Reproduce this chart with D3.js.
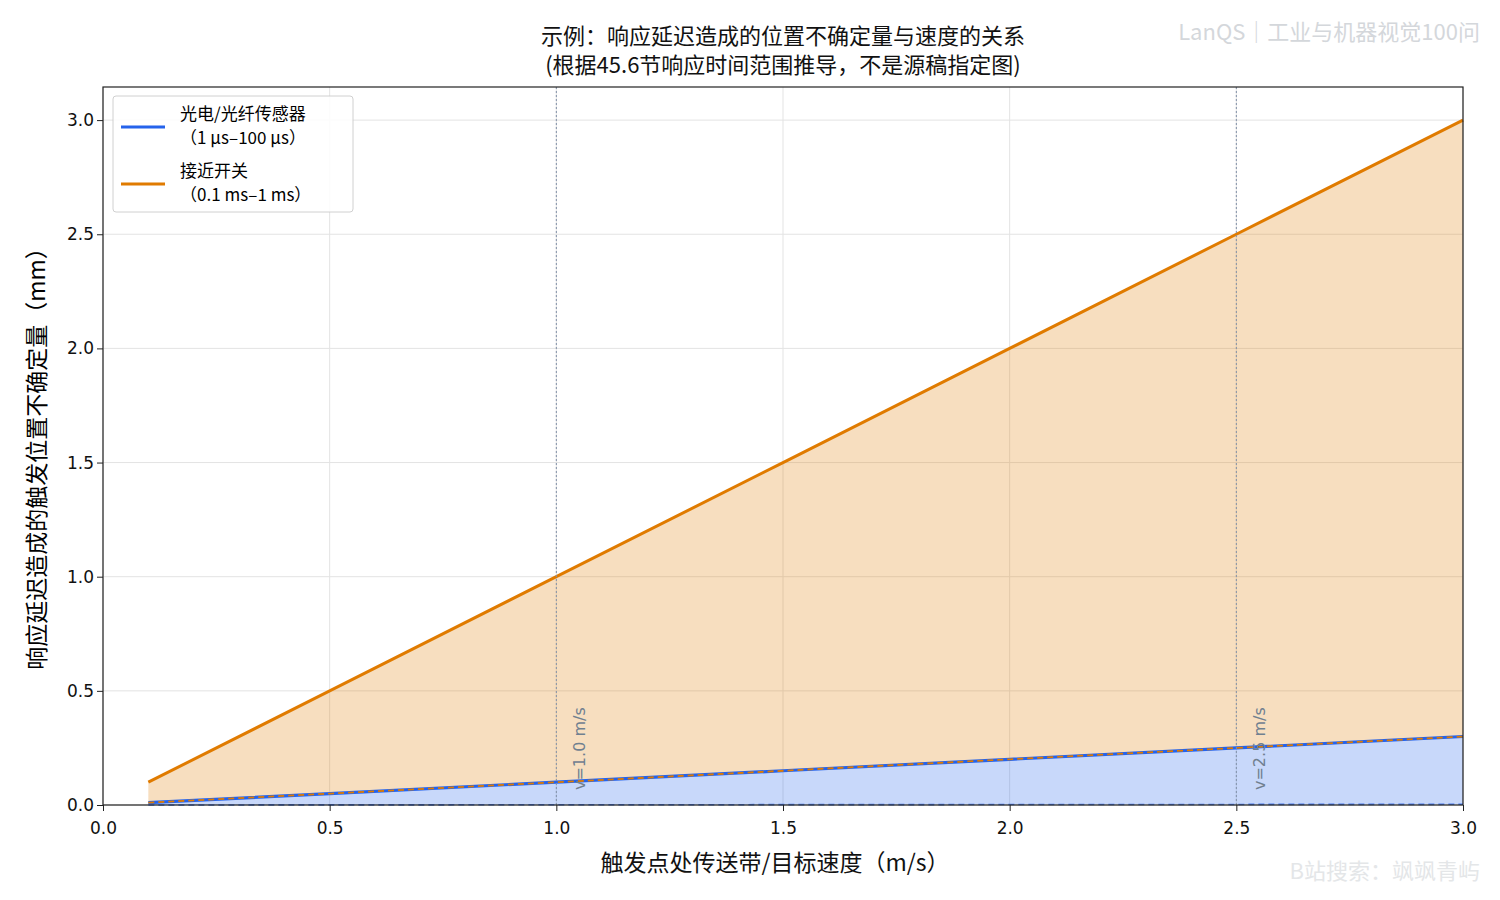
<!DOCTYPE html><html><head><meta charset="utf-8"><script src="https://cdn.jsdelivr.net/npm/d3@7"></script>
<style>body{margin:0;background:#fff}</style></head><body>
<svg id="c" width="1500" height="900"></svg>
<script>
const speeds=[0.1,0.5,1.0,1.5,2.0,2.5,3.0];
const photoMin=[0.0001,0.0005,0.001,0.0015,0.002,0.0025,0.003];
const photoMax=[0.01,0.05,0.1,0.15,0.2,0.25,0.3];
const proxMin=[0.01,0.05,0.1,0.15,0.2,0.25,0.3];
const proxMax=[0.1,0.5,1.0,1.5,2.0,2.5,3.0];
const xTicks=[0,0.5,1.0,1.5,2.0,2.5,3.0];
const yTicks=[0,0.5,1.0,1.5,2.0,2.5,3.0];
const refSpeeds=[1.0,2.5];
const CJK='"Noto Sans CJK SC",sans-serif', LAT='"DejaVu Sans",sans-serif';
const svg=d3.select("#c");
const L=103,R=1463,T=87,B=805;
const x=d3.scaleLinear().domain([0,3]).range([L,R]);
const y=d3.scaleLinear().domain([0,3.145]).range([B,T]);
const g=svg.append("g");
xTicks.forEach(t=>g.append("line").attr("x1",x(t)).attr("x2",x(t)).attr("y1",T).attr("y2",B).attr("stroke","#e3e3e3"));
yTicks.forEach(t=>g.append("line").attr("x1",L).attr("x2",R).attr("y1",y(t)).attr("y2",y(t)).attr("stroke","#e3e3e3"));
const idx=d3.range(speeds.length);
const area=(lo,hi)=>d3.area().x(i=>x(speeds[i])).y0(i=>y(lo[i])).y1(i=>y(hi[i]))(idx);
const line=a=>d3.line().x(i=>x(speeds[i])).y(i=>y(a[i]))(idx);
g.append("path").attr("d",area(proxMin,proxMax)).attr("fill","#e07b00").attr("opacity",0.25);
g.append("path").attr("d",area(photoMin,photoMax)).attr("fill","#2563eb").attr("opacity",0.25);
g.append("path").attr("d",line(photoMax)).attr("fill","none").attr("stroke","#2563eb").attr("stroke-width",3.2);
g.append("path").attr("d",line(photoMin)).attr("fill","none").attr("stroke","#2563eb").attr("stroke-width",1.6).attr("stroke-dasharray","6,4").attr("opacity",0.8);
g.append("path").attr("d",line(proxMax)).attr("fill","none").attr("stroke","#e07b00").attr("stroke-width",3);
g.append("path").attr("d",line(proxMin)).attr("fill","none").attr("stroke","#e07b00").attr("stroke-width",1.8).attr("stroke-dasharray","6,4");
refSpeeds.forEach(v=>{
 g.append("line").attr("x1",x(v)).attr("x2",x(v)).attr("y1",T).attr("y2",B).attr("stroke","#8090a8").attr("stroke-width",1).attr("stroke-dasharray","2,2");
 g.append("text").attr("transform",`translate(${x(v)+29},${B-15}) rotate(-90)`).style("font-size","16px").style("font-family",LAT).attr("fill","#708090").text(`v=${v.toFixed(1)} m/s`);
});
svg.append("rect").attr("x",L).attr("y",T).attr("width",R-L).attr("height",B-T).attr("fill","none").attr("stroke","#222").attr("stroke-width",1.2);
const xa=svg.append("g").attr("transform",`translate(0,${B})`).call(d3.axisBottom(x).tickValues(xTicks).tickFormat(d3.format(".1f")).tickSize(6));
const ya=svg.append("g").attr("transform",`translate(${L},0)`).call(d3.axisLeft(y).tickValues(yTicks).tickFormat(d3.format(".1f")).tickSize(6));
[xa,ya].forEach(a=>{a.select(".domain").remove();a.selectAll("text").style("font-size","17px").attr("fill","#111").style("font-family",LAT);a.selectAll("line").attr("stroke","#222")});
xa.selectAll("text").attr("dy","1.2em");
const t=(xx,yy,s,sz,anchor,fill,fam)=>svg.append("text").attr("x",xx).attr("y",yy).attr("text-anchor",anchor||"middle").style("font-size",sz+"px").style("font-family",fam||CJK).attr("fill",fill||"#111").text(s);
t(783,44,"示例：响应延迟造成的位置不确定量与速度的关系",22);
t(783,73,"(根据45.6节响应时间范围推导，不是源稿指定图)",22);
t(775,871,"触发点处传送带/目标速度（m/s）",23);
svg.append("text").attr("transform","translate(45,453) rotate(-90)").attr("text-anchor","middle").style("font-size","23px").style("font-family",CJK).text("响应延迟造成的触发位置不确定量（mm）");
t(1480,40,"LanQS｜工业与机器视觉100问",22,"end","#d4d7db");
t(1480,879,"B站搜索：飒飒青屿",22,"end","#e4e6e8");
const lg=svg.append("g");
lg.append("rect").attr("x",113).attr("y",96).attr("width",240).attr("height",116).attr("rx",3).attr("fill","#fff").attr("opacity",0.9).attr("stroke","#ccc");
[["#2563eb","光电/光纤传感器","（1 μs–100 μs）",127],["#e07b00","接近开关","（0.1 ms–1 ms）",184]].forEach(([c,a,b,yy])=>{
 lg.append("line").attr("x1",121).attr("x2",165).attr("y1",yy).attr("y2",yy).attr("stroke",c).attr("stroke-width",3);
 lg.append("text").attr("x",180).attr("y",yy-7).style("font-size","17px").style("font-family",CJK).text(a);
 lg.append("text").attr("x",180).attr("y",yy+17).style("font-size","17px").style("font-family",CJK).text(b);
});
</script></body></html>
